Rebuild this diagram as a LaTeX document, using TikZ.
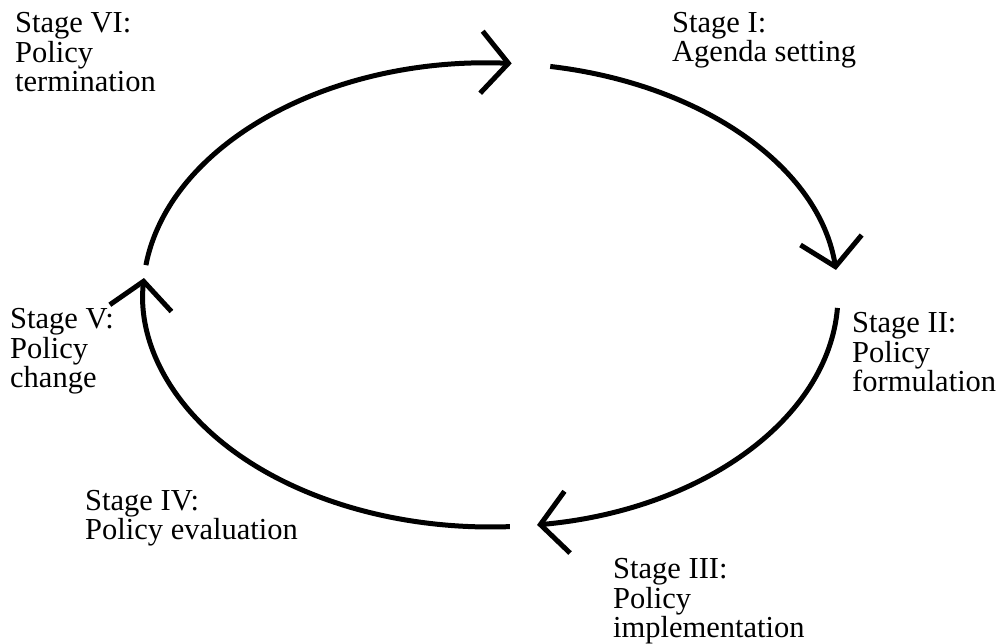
\documentclass[tikz,border=0pt]{standalone}
\usepackage{fontspec}
\setmainfont{Liberation Serif}
\usetikzlibrary{arrows.meta}

\tikzset{
  cycle arc/.style={line width=5pt, -{Straight Barb[length=27pt, width=62pt]}},
  stage label/.style={anchor=base west, align=left, inner sep=0pt,
    font=\fontsize{30.5}{29.5}\selectfont},
}

\begin{document}
\begin{tikzpicture}[x=1pt, y=1pt]
  \useasboundingbox (0,0) rectangle (1003,644);

  % the policy cycle: four elliptical arcs around one centre
  \begin{scope}[shift={(490.5,349)}]
    \coordinate (topEnd)     at (86.5:347.5 and 232);
    \coordinate (topStart)   at (80.1:347.5 and 232);
    \coordinate (rightEnd)   at (6.2:347.5 and 232);
    \coordinate (rightStart) at (-3.2:347.5 and 232);
    \coordinate (botEnd)     at (-82.3:347.5 and 232);
    \coordinate (botStart)   at (-86.8:347.5 and 232);
    \coordinate (leftEnd)    at (175.8:347.5 and 232);
    \coordinate (leftStart)  at (172.6:347.5 and 232);

    \draw[cycle arc] (topStart)
      arc[start angle=80.1, end angle=6.2, x radius=347.5, y radius=232];
    \draw[cycle arc] (rightStart)
      arc[start angle=-3.2, end angle=-82.3, x radius=347.5, y radius=232];
    \draw[cycle arc] (botStart)
      arc[start angle=-86.8, end angle=-184.2, x radius=347.5, y radius=232];
    \draw[cycle arc] (leftStart)
      arc[start angle=172.6, end angle=86.5, x radius=347.5, y radius=232];
  \end{scope}

  % stage labels (anchored at the baseline of their last line)
  \node[stage label] (s1) at (672,582) {Stage I:\\Agenda setting};
  \node[stage label] (s2) at (852,252) {Stage II:\\Policy\\formulation};
  \node[stage label] (s3) at (613,6)   {Stage III:\\Policy\\implementation};
  \node[stage label] (s4) at (85,104)  {Stage IV:\\Policy evaluation};
  \node[stage label] (s5) at (10,256)  {Stage V:\\Policy\\change};
  \node[stage label] (s6) at (15,552)  {Stage VI:\\Policy\\termination};
\end{tikzpicture}
\end{document}
